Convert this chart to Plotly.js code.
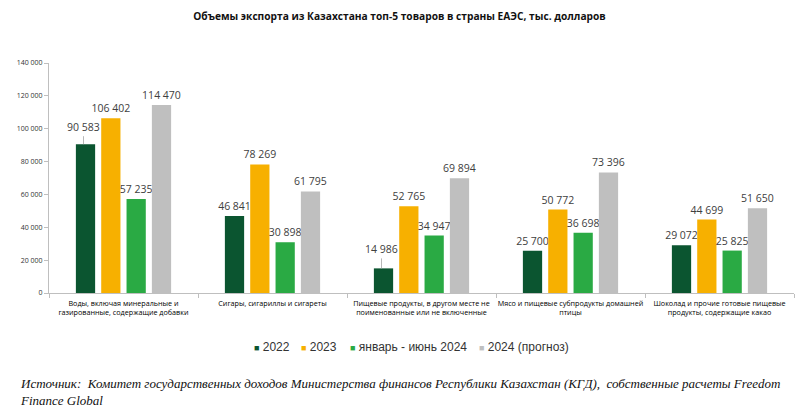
<!DOCTYPE html>
<html><head><meta charset="utf-8">
<script src="https://cdn.plot.ly/plotly-3.0.1.min.js"></script>
<style>body{margin:0;background:#fff}#chart{width:799px;height:415px}</style>
</head><body><div id="chart"></div>
<script>
const categories = [
  "Воды, включая минеральные и<br>газированные, содержащие добавки",
  "Сигары, сигариллы и сигареты",
  "Пищевые продукты, в другом месте не<br>поименованные или не включенные",
  "Мясо и пищевые субпродукты домашней<br>птицы",
  "Шоколад и прочие готовые пищевые<br>продукты, содержащие какао"
];
const seriesNames = ["2022", "2023", "январь - июнь 2024", "2024 (прогноз)"];
const v2022 = [90583, 46841, 14986, 25700, 29072];
const v2023 = [106402, 78269, 52765, 50772, 44699];
const vH1_2024 = [57235, 30898, 34947, 36698, 25825];
const v2024f = [114470, 61795, 69894, 73396, 51650];
const yTicks = [0, 20000, 40000, 60000, 80000, 100000, 120000, 140000];

const colors = ["#0b5530", "#f7b000", "#2aaa44", "#bfbfbf"];
const values = [v2022, v2023, vH1_2024, v2024f];
const fmt = v => String(v).replace(/\B(?=(\d{3})+(?!\d))/g, " ");
// labels drawn with leader lines instead of plain outside text: [series, category, offset]
const leader = [[0, 0, -8], [0, 2, -10]];
const labelFont = {family: "Open Sans, sans-serif", size: 10.5, color: "#404040"};

const traces = values.map((vals, i) => ({
  type: "bar",
  name: seriesNames[i],
  x: categories,
  y: vals,
  marker: {color: colors[i]},
  text: vals.map((v, j) => leader.some(p => p[0] === i && p[1] === j) ? "" : fmt(v)),
  textposition: "outside",
  constraintext: "none",
  textfont: labelFont,
  outsidetextfont: labelFont,
  cliponaxis: false,
  hoverinfo: "skip",
  showlegend: false
}));

const annotations = leader.map(([si, ci, off]) => ({
  x: categories[ci], y: values[si][ci], xref: "x", yref: "y",
  xshift: -40, text: fmt(values[si][ci]),
  showarrow: true, arrowhead: 0, arrowwidth: 0.8, arrowcolor: "#a6a6a6",
  ax: 0, ay: off, yanchor: "bottom",
  font: labelFont
}));

// custom compact legend (small squares, as in the reference)
const legendX = [0.272, 0.336, 0.401, 0.574];
seriesNames.forEach((n, i) => annotations.push({
  xref: "paper", yref: "paper", x: legendX[i], y: -0.235, xanchor: "left", yanchor: "middle",
  showarrow: false,
  text: `<span style="color:${colors[i]};font-size:9px">■</span> ${n}`,
  font: {family: "Liberation Sans, sans-serif", size: 12, color: "#333"}
}));

annotations.push({
  xref: "paper", yref: "paper", x: -0.041, y: -0.35, xanchor: "left", yanchor: "top", align: "left",
  showarrow: false,
  text: "<i>Источник:  Комитет государственных доходов Министерства финансов Республики Казахстан (КГД),  собственные расчеты Freedom<br>Finance Global</i>",
  font: {family: "Liberation Serif, serif", size: 13, color: "#111"}
});

const layout = {
  width: 799, height: 415,
  margin: {l: 49, r: 5, t: 63, b: 122},
  paper_bgcolor: "#fff", plot_bgcolor: "#fff",
  separators: ", ",
  title: {text: "<b>Объемы экспорта из Казахстана топ-5 товаров в страны ЕАЭС, тыс. долларов</b>",
          x: 0.5, xanchor: "center", y: 0.96, yanchor: "middle",
          font: {family: "Open Sans, sans-serif", size: 10.2, color: "#111"}},
  barmode: "group", bargap: 0.32, bargroupgap: 0.24,
  showlegend: false,
  xaxis: {type: "category", showline: true, linecolor: "#bfbfbf", linewidth: 1,
          ticks: "outside", tickson: "boundaries", ticklen: 4, tickcolor: "#bfbfbf",
          ticklabelstandoff: 3,
          tickfont: {family: "Open Sans, sans-serif", size: 7.2, color: "#000"},
          showgrid: false, zeroline: false, tickangle: 0, automargin: false},
  yaxis: {range: [0, 140000], tickvals: yTicks, ticktext: yTicks.map(fmt),
          showline: true, linecolor: "#bfbfbf", linewidth: 1, ticks: "outside", ticklen: 4,
          tickcolor: "#bfbfbf", showgrid: false, zeroline: false,
          tickfont: {family: "Open Sans, sans-serif", size: 7, color: "#333"}, automargin: false},
  annotations: annotations
};

Plotly.newPlot("chart", traces, layout, {displayModeBar: false, staticPlot: true});
</script></body></html>
